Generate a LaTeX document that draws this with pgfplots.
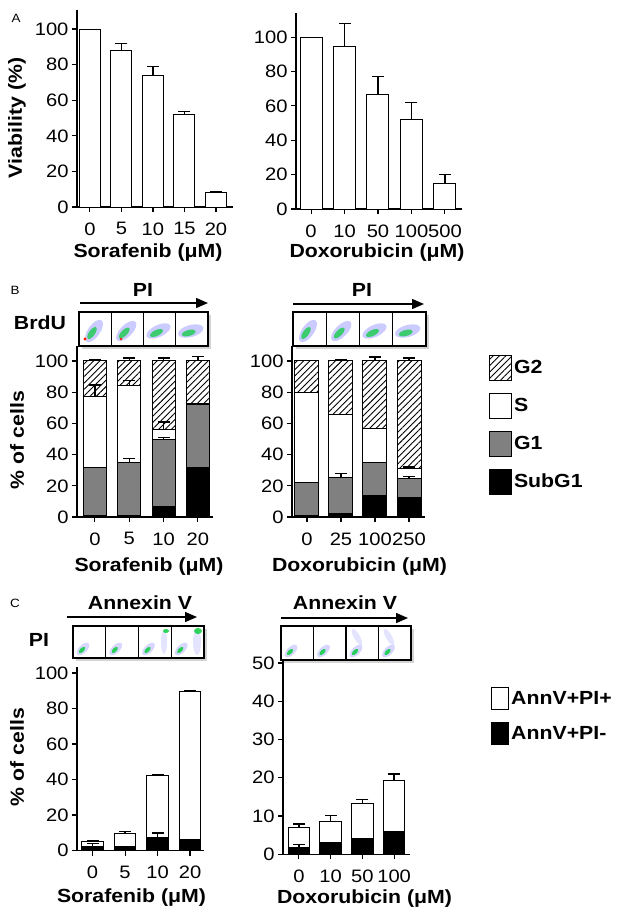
\documentclass[border=0pt]{standalone}
\usepackage{fontspec}
\setmainfont{Liberation Sans}[FakeStretch=1.12]
\usepackage{pgfplots}
\pgfplotsset{compat=1.18}
\usetikzlibrary{patterns.meta,shadows,arrows.meta}

\newcommand\fs{\fontsize{18}{21}\selectfont}
\newcommand\fb{\fontsize{19}{22}\selectfont\bfseries}
\definecolor{gone}{HTML}{808080}

\pgfplotsset{
  panel/.style={
    scale only axis, anchor=south west,
    axis lines*=left,
    axis line style={line width=1.2pt},
    tick align=outside, major tick length=5pt,
    tick style={line width=1.1pt, black},
    ymin=0, ytick distance=20,
    tick label style={font=\fs},
    xticklabel style={yshift=-7pt},
    /pgf/number format/assume math mode=true,
    xlabel style={font=\fb, at={(axis description cs:0.5,0)}, anchor=center},
    ylabel style={font=\fb, anchor=center},
    clip=false,
  },
  bar/.style={ybar, bar width=#1, bar shift=0pt, draw=black, line width=1pt},
  hatch/.style={pattern={Lines[angle=45,distance=4.5pt,line width=0.9pt]}},
  % error bars: stem from bar top to top+error, then a cap at the end
  ebar/.style={forget plot, black, line width=1.4pt, mark=none, unbounded coords=jump},
  ecap/.style={forget plot, only marks, mark=-, mark size=6pt, mark options={black, line width=1.4pt}},
}

\begin{document}
\begin{tikzpicture}
\useasboundingbox (0,0) rectangle (622pt,-919pt);

% ---------------- A ----------------
\begin{axis}[panel, at={(77pt,-207pt)}, width=156pt, height=197pt,
  xmin=-0.41, xmax=4.54, ymax=110.7,
  xtick={0,...,4}, xticklabels={0,5,10,15,20},
  xlabel={Sorafenib (μM)}, xlabel style={yshift=-46pt, xshift=-7pt},
  ylabel={Viability (\%)}, ylabel style={at={(axis description cs:-0.385,0.452)}}]
\addplot[bar=21pt, fill=white] coordinates {(0,100) (1,88) (2,74) (3,52) (4,8)};
\addplot[ebar] coordinates {(1,88) (1,92) (1,nan) (2,74) (2,79) (2,nan) (3,52) (3,53.5) (3,nan) (4,8) (4,8.7)};
\addplot[ecap] coordinates {(1,92) (2,79) (3,53.5) (4,8.7)};
\end{axis}

\begin{axis}[panel, at={(296pt,-209pt)}, width=166pt, height=196pt,
  xmin=-0.45, xmax=4.51, ymax=114,
  xtick={0,...,4}, xticklabels={0,10,50,100,500},
  xlabel={Doxorubicin (μM)}, xlabel style={yshift=-44pt, xshift=-2pt}]
\addplot[bar=22pt, fill=white] coordinates {(0,100) (1,94.3) (2,66.7) (3,52) (4,15)};
\addplot[ebar] coordinates {(1,94.3) (1,107.8) (1,nan) (2,66.7) (2,77) (2,nan) (3,52) (3,62) (3,nan) (4,15) (4,20)};
\addplot[ecap] coordinates {(1,107.8) (2,77) (3,62) (4,20)};
\end{axis}

% ---------------- B ----------------
\begin{axis}[panel, at={(77pt,-517pt)}, width=136pt, height=171pt,
  xmin=-0.52, xmax=3.44, ymax=109.6,
  xtick={0,...,3}, xticklabels={0,5,10,20},
  xlabel={Sorafenib (μM)}, xlabel style={yshift=-50pt, xshift=4pt},
  ylabel={\% of cells}, ylabel style={at={(axis description cs:-0.441,0.45)}}]
% cumulative tops: G2 (total), S, G1, SubG1
\addplot[bar=23pt, fill=white, hatch] coordinates {(0,100) (1,100) (2,100) (3,100)};
\addplot[bar=23pt, fill=white] coordinates {(0,77) (1,84.5) (2,56) (3,72.5)};
\addplot[bar=23pt, fill=gone] coordinates {(0,31.5) (1,35) (2,49.5) (3,72)};
\addplot[bar=23pt, fill=black] coordinates {(0,1) (1,1) (2,7) (3,32)};
\addplot[ebar] coordinates {(0,100) (0,101) (0,nan) (1,100) (1,102) (1,nan) (2,100) (2,102) (2,nan) (3,100) (3,103) (3,nan)
  (0,77) (0,84.5) (0,nan) (1,84.5) (1,87.5) (1,nan) (2,56) (2,61) (2,nan)
  (1,35) (1,37.4) (1,nan) (2,49.5) (2,51)};
\addplot[ecap] coordinates {(0,101) (1,102) (2,102) (3,103) (0,84.5) (1,87.5) (2,61) (1,37.4) (2,51)};
\end{axis}

\begin{axis}[panel, at={(292pt,-517pt)}, width=133pt, height=171pt,
  xmin=-0.44, xmax=3.47, ymax=109.6,
  xtick={0,...,3}, xticklabels={0,25,100,250},
  xlabel={Doxorubicin (μM)}, xlabel style={yshift=-50pt, xshift=1pt},
  legend style={at={(axis description cs:1.48,0.95)}, anchor=north west,
    draw=none, fill=none, font=\fb, inner sep=0pt, row sep=12pt},
  legend cell align=left,
  legend image code/.code={\draw[#1, line width=1pt] (0pt,-12.5pt) rectangle (22pt,12.5pt);}]
\addplot[bar=24pt, fill=white, hatch] coordinates {(0,100) (1,100) (2,100) (3,100)};
\addlegendentry{G2}
\addplot[bar=24pt, fill=white] coordinates {(0,79.5) (1,66) (2,56.5) (3,31)};
\addlegendentry{S}
\addplot[bar=24pt, fill=gone] coordinates {(0,22) (1,25.5) (2,35) (3,24.5)};
\addlegendentry{G1}
\addplot[bar=24pt, fill=black] coordinates {(0,1) (1,2.5) (2,13.5) (3,12.5)};
\addlegendentry{SubG1}
\addplot[ebar] coordinates {(0,100) (0,100.5) (0,nan) (1,100) (1,101) (1,nan) (2,100) (2,102.5) (2,nan) (3,100) (3,102) (3,nan)
  (3,31) (3,32) (3,nan) (1,25.5) (1,28) (1,nan) (3,24.5) (3,26)};
\addplot[ecap] coordinates {(0,100.5) (1,101) (2,102.5) (3,102) (3,32) (1,28) (3,26)};
\end{axis}

% ---------------- C ----------------
\begin{axis}[panel, at={(77pt,-850.5pt)}, width=127pt, height=183.5pt,
  xmin=-0.48, xmax=3.43, ymax=103.4,
  xtick={0,...,3}, xticklabels={0,5,10,20},
  xlabel={Sorafenib (μM)}, xlabel style={yshift=-47.5pt, xshift=-9pt},
  ylabel={\% of cells}, ylabel style={at={(axis description cs:-0.472,0.51)}}]
\addplot[bar=21.5pt, fill=white] coordinates {(0,5) (1,9.4) (2,42.4) (3,89.5)};
\addplot[bar=21.5pt, fill=black] coordinates {(0,2.3) (1,2.3) (2,7.6) (3,6.4)};
\addplot[ebar] coordinates {(0,5) (0,5.5) (0,nan) (1,9.4) (1,10.7) (1,nan) (2,42.4) (2,42.9) (2,nan) (3,89.5) (3,90.3) (3,nan)
  (0,2.3) (0,3.8) (0,nan) (2,7.6) (2,9.8)};
\addplot[ecap] coordinates {(0,5.5) (1,10.7) (2,42.9) (3,90.3) (0,3.8) (2,9.8)};
\end{axis}

\begin{axis}[panel, at={(283pt,-854.3pt)}, width=127pt, height=194pt,
  xmin=-0.5, xmax=3.5, ymax=50.7, ytick distance=10,
  xtick={0,...,3}, xticklabels={0,10,50,100},
  xlabel={Doxorubicin (μM)}, xlabel style={yshift=-44pt, xshift=18pt},
  legend style={at={(axis description cs:1.638,0.862)}, anchor=north west,
    draw=none, fill=none, font=\fb, inner sep=0pt, row sep=12pt},
  legend cell align=left,
  legend image code/.code={\draw[#1, line width=1pt] (0pt,-11pt) rectangle (17pt,11pt);}]
\addplot[bar=21.5pt, fill=white] coordinates {(0,6.9) (1,8.7) (2,13.3) (3,19.4)};
\addlegendentry{AnnV+PI+}
\addplot[bar=21.5pt, fill=black] coordinates {(0,1.8) (1,3.0) (2,4.2) (3,5.9)};
\addlegendentry{AnnV+PI-}
\addplot[ebar] coordinates {(0,6.9) (0,7.9) (0,nan) (1,8.7) (1,10.1) (1,nan) (2,13.3) (2,14.4) (2,nan) (3,19.4) (3,21) (3,nan)
  (0,1.8) (0,2.6)};
\addplot[ecap] coordinates {(0,7.9) (1,10.1) (2,14.4) (3,21) (0,2.6)};
\end{axis}

% ---------------- labels, arrows and cytometry thumbnails ----------------
\begin{scope}[x=1pt, y=-1pt]
\node[font=\fontsize{12}{14}\selectfont] at (16,18) {A};
\node[font=\fontsize{12}{14}\selectfont] at (15,290) {B};
\node[font=\fontsize{12}{14}\selectfont] at (15,603) {C};

\node[font=\fb] at (143,290) {PI};
\node[font=\fb] at (362,290) {PI};
\node[font=\fb] at (40,323) {BrdU};
\node[font=\fb] at (140,603) {Annexin V};
\node[font=\fb] at (345,603) {Annexin V};
\node[font=\fb] at (39,640) {PI};

\draw[line width=1.4pt, -{Triangle[length=12pt,width=10pt]}] (80,303) -- (208,303);
\draw[line width=1.4pt, -{Triangle[length=12pt,width=10pt]}] (293,304) -- (424,304);
\draw[line width=1.4pt, -{Triangle[length=12pt,width=10pt]}] (67,617) -- (197,617);
\draw[line width=1.4pt, -{Triangle[length=12pt,width=10pt]}] (281,618) -- (408,618);

% B thumbnails (BrdU vs PI)
\foreach \xa/\w in {79/32.25, 293/33.25} {
  \draw[line width=1.4pt, fill=white, drop shadow={shadow xshift=3pt, shadow yshift=-3pt, opacity=0.35}]
    (\xa,312) rectangle ({\xa+4*\w},346);
  \foreach \k/\r in {0/55, 1/45, 2/25, 3/15} {
    \fill[blue!45, opacity=0.45, rotate around={\r:({\xa+\k*\w+15},331)}] ({\xa+\k*\w+15},331) ellipse (13 and 6);
    \fill[green!60!teal, opacity=0.7, rotate around={\r:({\xa+\k*\w+13},333)}] ({\xa+\k*\w+13},333) ellipse (7 and 3);
  }
  \foreach \k in {1,2,3} \draw[line width=1.4pt] ({\xa+\k*\w},312) -- ({\xa+\k*\w},346);
}
\fill[red!80!orange] (85,339) circle (1.6);
\fill[red!80!orange] (121,339) circle (1.4);

% C thumbnails (PI vs Annexin V)
\foreach \xa/\w/\ya/\yb in {73/32.75/626/658, 281/32.5/626/660} {
  \draw[line width=1.4pt, fill=white, drop shadow={shadow xshift=3pt, shadow yshift=-3pt, opacity=0.35}]
    (\xa,\ya) rectangle ({\xa+4*\w},\yb);
  \foreach \k in {0,...,3} {
    \fill[blue!40, opacity=0.4, rotate around={45:({\xa+\k*\w+10},{\yb-9})}] ({\xa+\k*\w+10},{\yb-9}) ellipse (8 and 4);
    \fill[green!60!teal, opacity=0.8, rotate around={45:({\xa+\k*\w+9},{\yb-8})}] ({\xa+\k*\w+9},{\yb-8}) ellipse (4 and 2);
  }
  \foreach \k in {1,2,3} \draw[line width=1.4pt] ({\xa+\k*\w},\ya) -- ({\xa+\k*\w},\yb);
}
\fill[blue!30, opacity=0.35] (164,642) ellipse (3 and 12);
\fill[blue!30, opacity=0.35] (197,642) ellipse (4 and 13);
\fill[green!60!teal, opacity=0.8] (166,631) ellipse (3 and 2);
\fill[green!60!teal, opacity=0.8] (198,631) ellipse (4 and 3);
\fill[blue!30, opacity=0.35, rotate around={30:(357,637)}] (357,637) ellipse (3 and 9);
\fill[blue!30, opacity=0.35, rotate around={30:(389,637)}] (389,637) ellipse (3 and 9);
\end{scope}
\end{tikzpicture}
\end{document}
